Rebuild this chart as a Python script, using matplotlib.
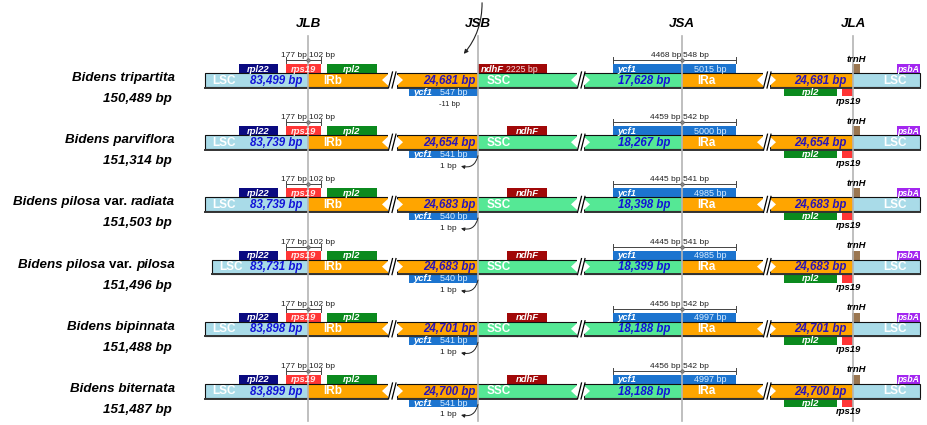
import matplotlib
matplotlib.use("Agg")
import matplotlib.pyplot as plt
from matplotlib.patches import Rectangle, Polygon, FancyArrowPatch

plt.rcParams['font.family'] = ['Liberation Sans', 'DejaVu Sans']

# ---- data ----
species = ["Bidens tripartita", "Bidens parviflora", "Bidens pilosa var. radiata",
           "Bidens pilosa var. pilosa", "Bidens bipinnata", "Bidens biternata"]
genome_bp = [150489, 151314, 151503, 151496, 151488, 151487]
lsc_bp = [83499, 83739, 83739, 83731, 83898, 83899]
ir_bp = [24681, 24654, 24683, 24683, 24701, 24700]
ssc_bp = [17628, 18267, 18398, 18399, 18188, 18188]
rps19_lsc_bp = [177, 177, 177, 177, 177, 177]
rps19_ir_bp = [102, 102, 102, 102, 102, 102]
ycf1_short_bp = [547, 541, 540, 540, 541, 541]
ycf1_short_gap = [-11, 1, 1, 1, 1, 1]
ndhf_bp = [2225, None, None, None, None, None]
ycf1_ssc_bp = [4468, 4459, 4445, 4445, 4456, 4456]
ycf1_ira_bp = [548, 542, 541, 541, 542, 542]
ycf1_bp = [5015, 5000, 4985, 4985, 4997, 4997]
junctions = ["JLB", "JSB", "JSA", "JLA"]

# ---- layout (schematic, not to scale) ----
W, H = 927, 425
X_JUNC = [308, 478, 682, 853]
LSC_LEFT = [205, 205, 205, 212, 205, 205]
IRB_END, IRB2_START = 388, 397
SSC_END, SSC2_START = 577, 584
IRA_END, IRA2_START = 763, 770
LSC_RIGHT = 920
ROW_Y0, ROW_DY = 80, 62.2
BAR_H = 14
GENE_H = 9

C_LSC = '#a9dbe8'
C_IR = '#ffa500'
C_SSC = '#55e895'
C_RPL22 = '#0a0a80'
C_RPS19 = '#ff3535'
C_RPL2 = '#0b8a1e'
C_NDHF = '#a10808'
C_YCF1 = '#1c74cf'
C_TRNH = '#9a7650'
C_PSBA = '#a326f0'
C_NUM = '#1212d8'
C_NUM_IR = '#2a14b8'
C_JLINE = '#b4b4b4'

fig = plt.figure(figsize=(W / 100, H / 100), dpi=100)
ax = fig.add_axes([0, 0, 1, 1])
ax.set_xlim(0, W)
ax.set_ylim(H, 0)
ax.axis('off')


def fmt(v):
    # region and genome sizes use a thousands separator
    return f"{v:,} bp"


def gbp(v):
    # gene lengths and distances are printed plain
    return f"{v} bp"


def box(x0, x1, yc, color, z=3):
    ax.add_patch(Rectangle((x0, yc - GENE_H / 2), x1 - x0, GENE_H,
                           facecolor=color, edgecolor='none', zorder=z))


def gene_text(x, yc, s, ha='center', color='white', style='italic', weight='bold', size=6.8):
    ax.text(x, yc + 0.5, s, ha=ha, va='center', color=color, fontsize=size,
            fontstyle=style, fontweight=weight, zorder=8)


def bracket(x0, x1, xj, y, left_val, right_val):
    ax.plot([x0, x1], [y, y], color='#444444', lw=0.7, zorder=6)
    for xx in (x0, x1):
        ax.plot([xx, xx], [y - 3, y + 3], color='#444444', lw=0.7, zorder=6)
    ax.plot([xj], [y], 'o', ms=2.5, mfc='#888888', mec='#555555', mew=0.4, zorder=7)
    ax.text(xj - 1, y - 1, gbp(left_val), ha='right', va='bottom', fontsize=6, color='#222222', zorder=8)
    ax.text(xj + 1, y - 1, gbp(right_val), ha='left', va='bottom', fontsize=6, color='#222222', zorder=8)


def draw_break(x_end, x_start, yc):
    t, b = yc - BAR_H / 2, yc + BAR_H / 2
    ax.add_patch(Polygon([(x_end + 0.5, t + 1), (x_end + 0.5, b - 1), (x_end - 6, yc)],
                         closed=True, facecolor='white', edgecolor='none', zorder=5))
    ax.add_patch(Polygon([(x_start - 0.5, t + 1), (x_start - 0.5, b - 1), (x_start + 6, yc)],
                         closed=True, facecolor='white', edgecolor='none', zorder=5))
    ax.add_patch(Rectangle((x_end, t - 2), x_start - x_end, BAR_H + 4,
                           facecolor='white', edgecolor='none', zorder=5))
    for dx in (1.5, 5.0):
        ax.plot([x_end + dx - 1, x_end + dx + 3], [b + 1, t - 1], color='black', lw=0.9, zorder=6)


def species_label(i, yc, renderer):
    name = species[i]
    if ' var. ' in name:
        head, tail = name.split(' var. ')
        pieces = [(head + ' ', 'italic'), ('var. ', 'normal'), (tail, 'italic')]
    else:
        pieces = [(name, 'italic')]
    x_right = 175
    for s, st in reversed(pieces):
        t = ax.text(x_right, yc - 2, s, ha='right', va='center', fontsize=9.6,
                    fontweight='bold', fontstyle=st, zorder=8)
        bb = t.get_window_extent(renderer)
        x_right = ax.transData.inverted().transform((bb.x0, bb.y0))[0]
    ax.text(172, yc + 19, fmt(genome_bp[i]), ha='right', va='center', fontsize=9.6,
            fontweight='bold', fontstyle='italic', zorder=8)


renderer = fig.canvas.get_renderer()

# junction lines and labels
for name, xj in zip(junctions, X_JUNC):
    ax.plot([xj, xj], [36, 421], color=C_JLINE, lw=1.2, zorder=7)
    ax.text(xj, 24, name, ha='center', va='center', fontsize=9.6,
            fontweight='bold', fontstyle='italic')

# curved arrow at JSB
ax.add_patch(FancyArrowPatch((482, 0), (462, 56), connectionstyle="arc3,rad=-0.2",
                             arrowstyle="-|>", mutation_scale=6, lw=0.8, color='#222222', zorder=9))

for i in range(len(species)):
    yc = ROW_Y0 + ROW_DY * i
    top = yc - BAR_H / 2
    xl = LSC_LEFT[i]
    jlb, jsb, jsa, jla = X_JUNC

    # region fills
    fills = [(xl, jlb, C_LSC), (jlb, IRB_END, C_IR), (IRB2_START, jsb, C_IR),
             (jsb, SSC_END, C_SSC), (SSC2_START, jsa, C_SSC), (jsa, IRA_END, C_IR),
             (IRA2_START, jla, C_IR), (jla, LSC_RIGHT, C_LSC)]
    for x0, x1, c in fills:
        ax.add_patch(Rectangle((x0, top), x1 - x0, BAR_H, facecolor=c, edgecolor='none', zorder=2))
    # outlines of the continuous spans
    for x0, x1 in [(xl, IRB_END), (IRB2_START, SSC_END), (SSC2_START, IRA_END), (IRA2_START, LSC_RIGHT)]:
        ax.add_patch(Rectangle((x0, top), x1 - x0, BAR_H, facecolor='none',
                               edgecolor='#111111', lw=0.8, zorder=4))
        ax.plot([x0, x1], [top + BAR_H + 0.6, top + BAR_H + 0.6], color='#333333', lw=1.4, zorder=4)
    draw_break(IRB_END, IRB2_START, yc)
    draw_break(SSC_END, SSC2_START, yc)
    draw_break(IRA_END, IRA2_START, yc)

    # region labels
    ax.text(xl + 7, yc + 0.5, 'LSC', ha='left', va='center', color='white', fontsize=8.5,
            fontweight='bold', zorder=8)
    ax.text(276, yc + 0.5, fmt(lsc_bp[i]), ha='center', va='center', color=C_NUM, fontsize=8.3,
            fontweight='bold', fontstyle='italic', zorder=8)
    ax.text(323, yc + 0.5, 'IRb', ha='left', va='center', color='white', fontsize=8.5,
            fontweight='bold', zorder=8)
    ax.text(449, yc + 0.5, fmt(ir_bp[i]), ha='center', va='center', color=C_NUM_IR, fontsize=8.3,
            fontweight='bold', fontstyle='italic', zorder=8)
    ax.text(487, yc + 0.5, 'SSC', ha='left', va='center', color='white', fontsize=8.5,
            fontweight='bold', zorder=8)
    ax.text(644, yc + 0.5, fmt(ssc_bp[i]), ha='center', va='center', color=C_NUM, fontsize=8.3,
            fontweight='bold', fontstyle='italic', zorder=8)
    ax.text(697, yc + 0.5, 'IRa', ha='left', va='center', color='white', fontsize=8.5,
            fontweight='bold', zorder=8)
    ax.text(820, yc + 0.5, fmt(ir_bp[i]), ha='center', va='center', color=C_NUM_IR, fontsize=8.3,
            fontweight='bold', fontstyle='italic', zorder=8)
    ax.text(895, yc + 0.5, 'LSC', ha='center', va='center', color='white', fontsize=8.5,
            fontweight='bold', zorder=8)

    # genes above the bar
    ga = top - GENE_H / 2
    box(239, 278, ga, C_RPL22)
    gene_text(258.5, ga, 'rpl22')
    box(286, 321, ga, C_RPS19)
    gene_text(303.5, ga, 'rps19', color='#ffe8e8')
    box(327, 377, ga, C_RPL2)
    gene_text(352, ga, 'rpl2')
    bracket(286, 321, jlb, top - 13, rps19_lsc_bp[i], rps19_ir_bp[i])

    if ndhf_bp[i] is not None:
        box(jsb, 547, ga, C_NDHF)
        gene_text(481, ga, 'ndhF', ha='left')
        gene_text(538, ga, gbp(ndhf_bp[i]), ha='right', style='normal', weight='normal', size=6.3,
                  color='#f4dada')
    else:
        box(507, 547, ga, C_NDHF)
        gene_text(527, ga, 'ndhF')

    box(613, 736, ga, C_YCF1)
    gene_text(617, ga, 'ycf1', ha='left')
    gene_text(727, ga, gbp(ycf1_bp[i]), ha='right', style='normal', weight='normal', size=6.5,
              color='#d8ecff')
    bracket(613, 736, jsa, top - 13, ycf1_ssc_bp[i], ycf1_ira_bp[i])

    box(852, 860, ga, C_TRNH)
    ax.text(856, top - 14, 'trnH', ha='center', va='center', fontsize=6.8,
            fontweight='bold', fontstyle='italic', zorder=8)
    box(897, LSC_RIGHT, ga, C_PSBA)
    gene_text(908.5, ga, 'psbA', size=6.3)

    # genes below the bar
    gb = top + BAR_H + GENE_H / 2
    box(409, jsb, gb, C_YCF1)
    gene_text(413, gb, 'ycf1', ha='left')
    gene_text(468, gb, gbp(ycf1_short_bp[i]), ha='right', style='normal', weight='normal', size=6.5,
              color='#d8ecff')
    if ycf1_short_gap[i] < 0:
        ax.text(450, yc + 24, gbp(ycf1_short_gap[i]), ha='center', va='center', fontsize=5.5,
                color='#222222', zorder=8)
    else:
        ax.add_patch(FancyArrowPatch((jsb, gb + 2), (461, yc + 24), connectionstyle="arc3,rad=-0.5",
                                     arrowstyle="-|>", mutation_scale=5, lw=0.7, color='#222222',
                                     zorder=8, shrinkA=0, shrinkB=0))
        ax.text(457, yc + 24, gbp(ycf1_short_gap[i]), ha='right', va='center', fontsize=6,
                color='#222222', zorder=8)

    box(784, 837, gb, C_RPL2)
    gene_text(810.5, gb, 'rpl2')
    box(842, jla, gb, C_RPS19)
    ax.text(848, top + BAR_H + 14, 'rps19', ha='center', va='center', fontsize=6.8,
            fontweight='bold', fontstyle='italic', zorder=8)

    species_label(i, yc, renderer)

fig.savefig('out.png', dpi=100)
